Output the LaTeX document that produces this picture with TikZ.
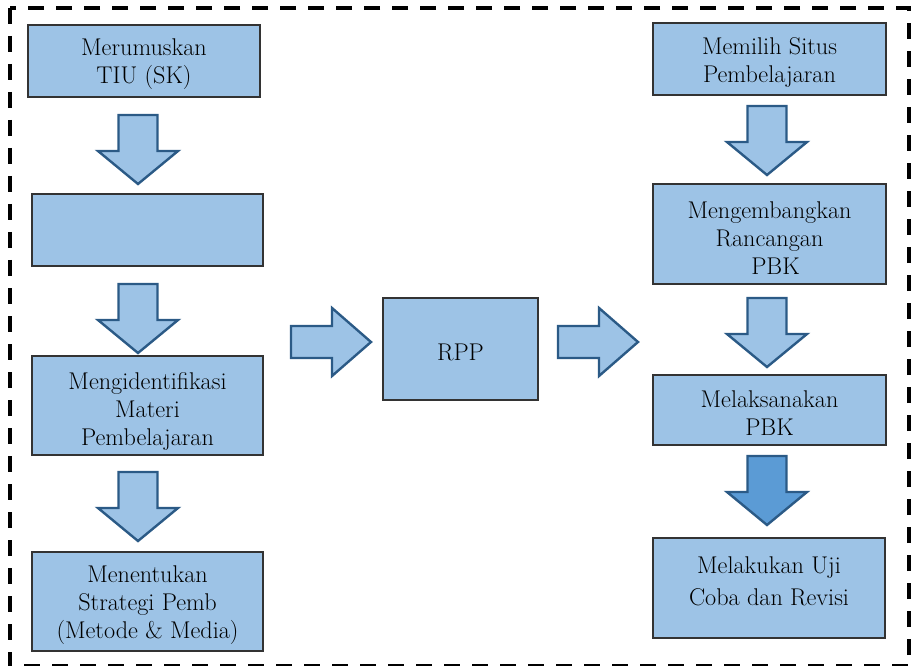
\documentclass[tikz,border=0pt]{standalone}
\usepackage{fontspec}
\definecolor{boxfill}{HTML}{9DC3E6}
\definecolor{arrowline}{HTML}{2B5A86}
\definecolor{arrowdark}{HTML}{5B9BD5}
\begin{document}
\begin{tikzpicture}[x=1pt,y=-1pt,
  box/.style={draw=black!80, line width=1.2pt, fill=boxfill, inner sep=0pt, anchor=center},
  txt/.style={align=center, inner sep=0pt, font=\fontsize{24.2}{28}\selectfont},
  arrowshape/.style={draw=arrowline, line width=2.4pt, line join=miter, fill=boxfill},
  darkarrow/.style={arrowshape, fill=arrowdark},
  downarr/.pic={\path[pic actions] (-19.5,0) -- (19.5,0) -- (19.5,36) -- (40,36) -- (0,69)
                     -- (-40,36) -- (-19.5,36) -- cycle;},
  rightarr/.pic={\path[pic actions] (0,-16) -- (41,-16) -- (41,-34) -- (80,0) -- (41,34)
                     -- (41,16) -- (0,16) -- cycle;},
]
\useasboundingbox (0,0) rectangle (914,666);

% dashed frame
\draw[line width=3.6pt, dash pattern=on 16pt off 12pt] (10,8) rectangle (909,666);

% left column
\node[box, minimum width=232pt, minimum height=72pt] (b1) at (144,61) {};
\node[txt] (t1) at (144,64.5) {Merumuskan\\TIU (SK)};
\node[box, minimum width=231pt, minimum height=72pt] (b2) at (147.5,230) {};
\node[box, minimum width=231pt, minimum height=99pt] (b3) at (147.5,405.5) {};
\node[txt] (t3) at (147.5,411) {Mengidentifikasi\\Materi\\Pembelajaran};
\node[box, minimum width=231pt, minimum height=99pt] (b4) at (147.5,601.5) {};
\node[txt] (t4) at (147.5,605.5) {Menentukan\\Strategi Pemb\\(Metode \& Media)};

\pic[arrowshape] (a1) at (138,115) {downarr};
\pic[arrowshape] (a2) at (138,284) {downarr};
\pic[arrowshape] (a3) at (138,472) {downarr};

% centre
\node[box, minimum width=155pt, minimum height=102pt] (rpp) at (460.5,349) {};
\node[txt] (trpp) at (460.5,352.5) {RPP};
\pic[arrowshape] (h1) at (291,342) {rightarr};
\pic[arrowshape] (h2) at (558,342) {rightarr};

% right column
\node[box, minimum width=233pt, minimum height=72pt] (r1) at (769.5,59) {};
\node[txt] (s1) at (769.5,62.5) {Memilih Situs\\Pembelajaran};
\node[box, minimum width=233pt, minimum height=100pt] (r2) at (769.5,234) {};
\node[txt] (s2) at (769.5,238.5) {Mengembangkan\\Rancangan\\\hspace{12pt}PBK};
\node[box, minimum width=233pt, minimum height=70pt] (r3) at (769.5,410) {};
\node[txt] (s3) at (769.5,413) {Melaksanakan\\PBK};
\node[box, minimum width=232pt, minimum height=100pt] (r4) at (769,588) {};
\node[txt, font=\fontsize{24.2}{32}\selectfont] (s4) at (769,581) {Melakukan Uji\\Coba dan Revisi};

\pic[arrowshape] (ra1) at (767,106) {downarr};
\pic[arrowshape] (ra2) at (767,298) {downarr};
\pic[darkarrow] (ra3) at (767,456) {downarr};
\end{tikzpicture}
\end{document}
